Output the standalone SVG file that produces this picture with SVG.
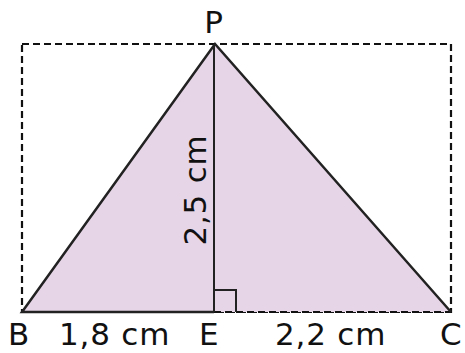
<svg xmlns="http://www.w3.org/2000/svg" width="465" height="353" viewBox="0 0 465 353">
<style>
.lbl{font-family:"DejaVu Sans","Verdana",sans-serif;font-size:31px;letter-spacing:0.8px;fill:#111}
.dash{fill:none;stroke:#111;stroke-width:2.2;stroke-dasharray:7,4}
.edge{fill:none;stroke:#222;stroke-width:2.5;stroke-linejoin:miter}
</style>
<rect width="465" height="353" fill="#fff"/>
<g id="frame">
<rect class="dash" x="22" y="44" width="429" height="268"/>
</g>
<g id="triangle">
<polygon points="22,312 215,44 451,312" fill="#e6d5e6" stroke="none"/>
<line class="dash" x1="214" y1="312" x2="451" y2="312"/>
</g>
<g id="connectors">
<polyline class="edge" points="451,312 215,44 22,312 214,312"/>
<line x1="214" y1="44" x2="214" y2="312" stroke="#222" stroke-width="2"/>
<polyline points="214,290 236,290 236,312" fill="none" stroke="#222" stroke-width="2"/>
</g>
<g id="labels">
<text class="lbl" x="214" y="33" text-anchor="middle">P</text>
<text class="lbl" x="8" y="345">B</text>
<text class="lbl" x="59" y="345">1,8 cm</text>
<text class="lbl" x="199" y="345">E</text>
<text class="lbl" x="275" y="345">2,2 cm</text>
<text class="lbl" x="440" y="345">C</text>
<text class="lbl" transform="translate(206,190) rotate(-90)" text-anchor="middle">2,5 cm</text>
</g>
</svg>
